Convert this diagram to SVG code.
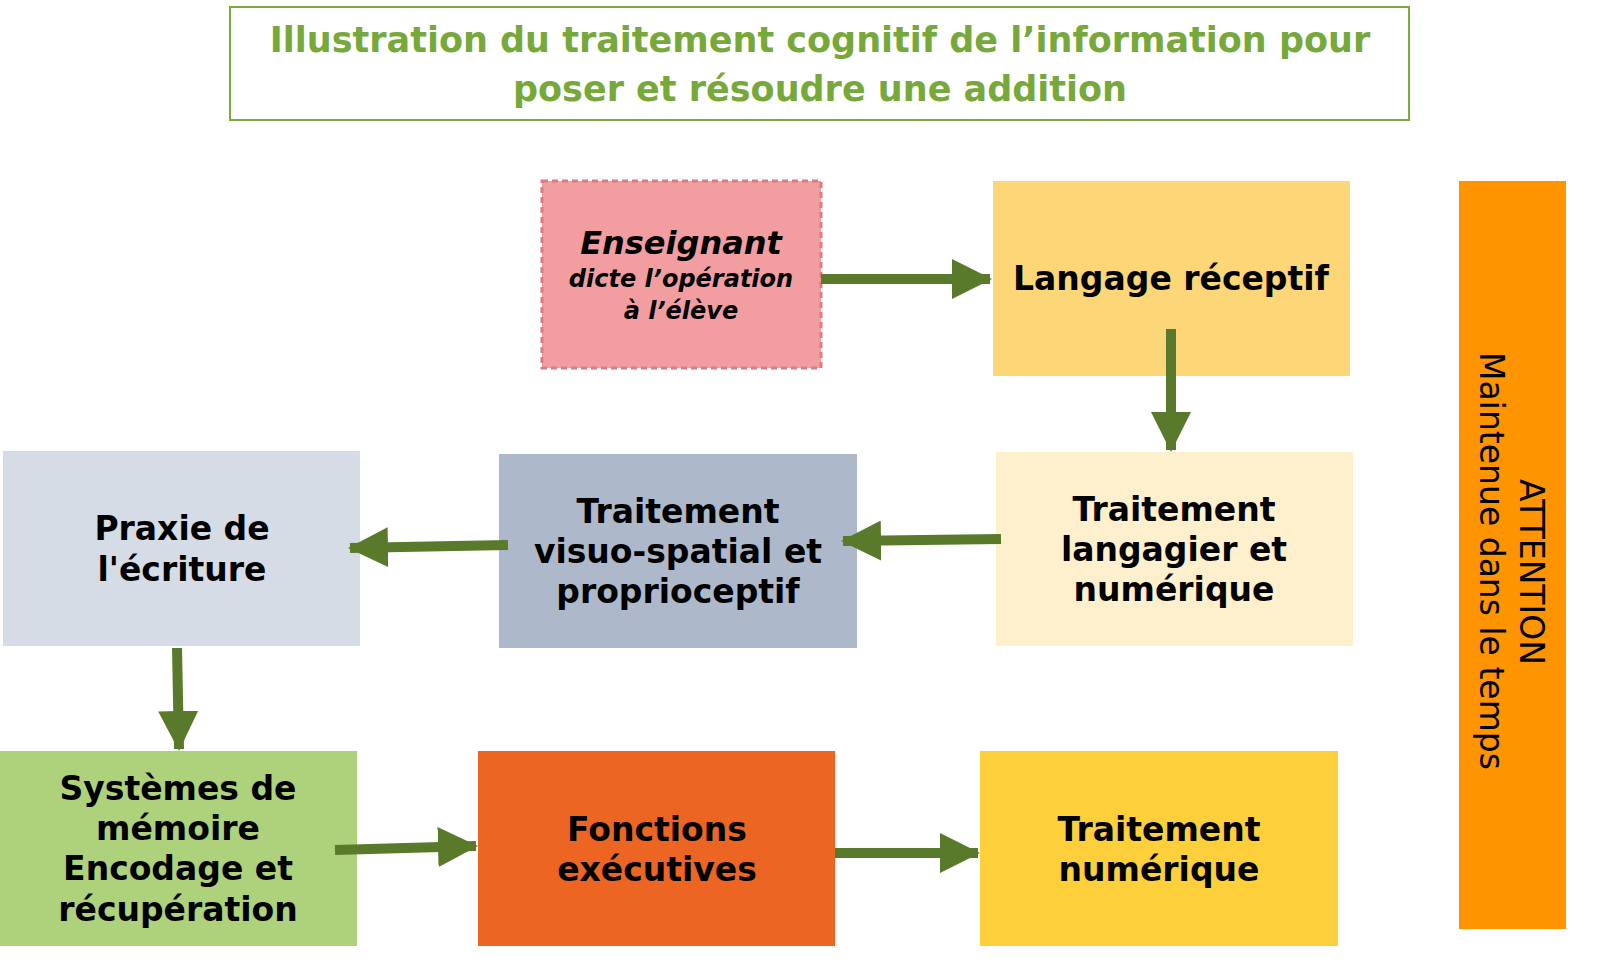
<svg xmlns="http://www.w3.org/2000/svg" width="1606" height="976" viewBox="0 0 1606 976">
<style>
text{font-family:"DejaVu Sans","Liberation Sans",sans-serif;font-weight:bold;text-anchor:middle;fill:#000}
.t{font-size:33px}
.c{stroke:#5a7a2b;stroke-width:10;fill:none;marker-end:url(#ah)}
</style>
<defs><marker id="ah" markerWidth="4" markerHeight="4" refX="3.8" refY="2" orient="auto"><path d="M0,0 L4,2 L0,4Z" fill="#5a7a2b"/></marker></defs>
<rect width="1606" height="976" fill="#fff"/>
<g id="title"><rect x="230" y="7" width="1179" height="113" fill="#fff" stroke="#7aab3e" stroke-width="2"/>
<text x="820" y="52" style="font-size:35px;fill:#77a83a">Illustration du traitement cognitif de l’information pour</text>
<text x="820" y="101" style="font-size:35px;fill:#77a83a">poser et résoudre une addition</text></g>
<g id="enseignant"><rect x="542" y="181" width="279" height="187" fill="#f29ea0" stroke="#e07a80" stroke-width="3" stroke-dasharray="6,4"/>
<text x="681" y="254" style="font-size:32px;font-style:italic">Enseignant</text>
<text x="681" y="287" style="font-size:24px;font-style:italic">dicte l’opération</text>
<text x="681" y="319" style="font-size:24px;font-style:italic">à l’élève</text></g>
<g id="langage"><rect x="993" y="181" width="357" height="195" fill="#fcd677"/><text class="t" x="1171" y="290">Langage réceptif</text></g>
<g id="langagier"><rect x="996" y="452" width="357" height="194" fill="#fef0cd"/><text class="t" x="1174" y="521">Traitement</text><text class="t" x="1174" y="561">langagier et</text><text class="t" x="1174" y="601">numérique</text></g>
<g id="visuo"><rect x="499" y="454" width="358" height="194" fill="#adb9ca"/><text class="t" x="678" y="523">Traitement</text><text class="t" x="678" y="563">visuo-spatial et</text><text class="t" x="678" y="603">proprioceptif</text></g>
<g id="praxie"><rect x="3" y="451" width="357" height="195" fill="#d6dce5"/><text class="t" x="182" y="540">Praxie de</text><text class="t" x="182" y="581">l'écriture</text></g>
<g id="memoire"><rect x="0" y="751" width="357" height="195" fill="#aed27c"/><text class="t" x="178" y="800">Systèmes de</text><text class="t" x="178" y="840">mémoire</text><text class="t" x="178" y="880">Encodage et</text><text class="t" x="178" y="921">récupération</text></g>
<g id="fonctions"><rect x="478" y="751" width="357" height="195" fill="#ec6523"/><text class="t" x="657" y="841">Fonctions</text><text class="t" x="657" y="881">exécutives</text></g>
<g id="numerique"><rect x="980" y="751" width="358" height="195" fill="#fdd03b"/><text class="t" x="1159" y="841">Traitement</text><text class="t" x="1159" y="881">numérique</text></g>
<g id="attention"><rect x="1459" y="181" width="107" height="748" fill="#fd9400"/>
<text transform="translate(1520,572) rotate(90)" style="font-size:33px;font-weight:normal">ATTENTION</text>
<text transform="translate(1480,561) rotate(90)" style="font-size:33px;font-weight:normal">Maintenue dans le temps</text></g>
<g id="connectors">
<path class="c" d="M821,279 L990,279"/>
<path class="c" d="M1171,329 L1171,450"/>
<path class="c" d="M1001,539 L843,541"/>
<path class="c" d="M508,545 L350,548"/>
<path class="c" d="M177,648 L179,749"/>
<path class="c" d="M335,850 L476,846"/>
<path class="c" d="M835,853 L978,853"/>
</g>
</svg>
